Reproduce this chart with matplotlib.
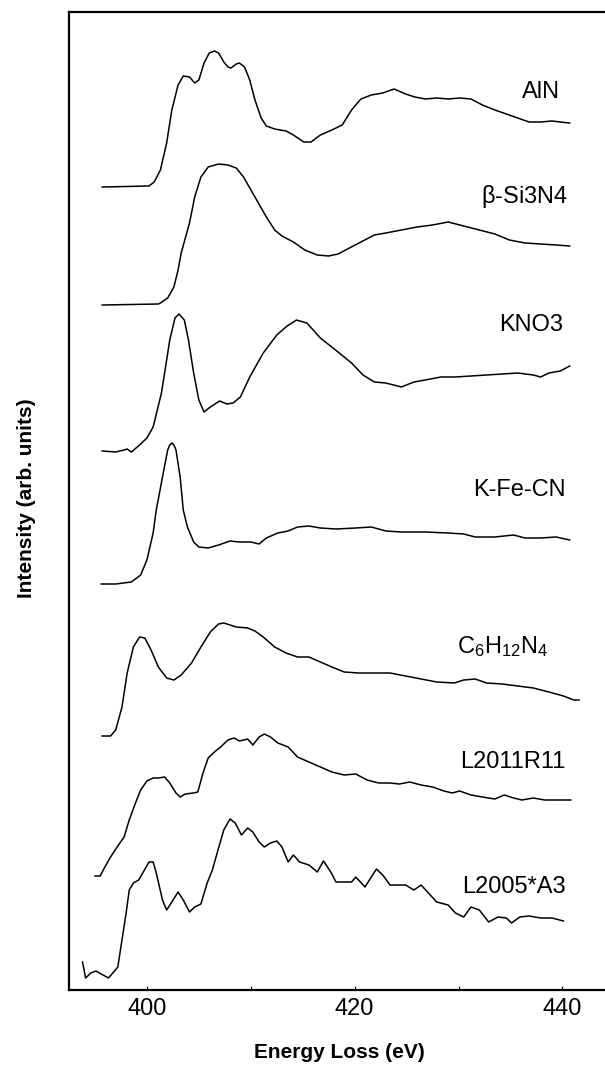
import matplotlib
matplotlib.use("Agg")
import matplotlib.pyplot as plt
from matplotlib.ticker import MultipleLocator

plt.rcParams['font.family'] = ['Liberation Sans', 'DejaVu Sans']
plt.rcParams['mathtext.fontset'] = 'custom'
plt.rcParams['mathtext.rm'] = 'Liberation Sans'
plt.rcParams['mathtext.it'] = 'Liberation Sans'

# energy loss (eV) and stacked intensity (arb. units, offsets included)
aln_e = [395.7, 400.2, 400.7, 401.3, 401.9, 402.4, 403.0, 403.5, 404.1, 404.6,
         405.0, 405.5, 406.0, 406.5, 406.9, 407.4, 407.8, 408.1, 408.6, 408.9,
         409.4, 409.9, 410.4, 411.0, 411.5, 412.3, 413.4, 414.1, 415.1, 415.8,
         416.7, 417.8, 418.8, 419.7, 420.6, 421.6, 422.7, 423.8, 424.9, 425.8,
         426.8, 427.9, 429.0, 430.1, 431.2, 432.3, 433.5, 434.6, 435.7, 436.8,
         437.9, 439.0, 439.8, 440.7]
aln_i = [803, 804, 808, 820, 847, 880, 905, 914, 913, 907,
         910, 927, 937, 939, 937, 928, 923, 922, 926, 927,
         923, 910, 890, 872, 864, 861, 859, 855, 848, 848,
         855, 860, 865, 880, 891, 895, 897, 901, 896, 893,
         891, 892, 891, 892, 891, 885, 880, 876, 872, 868,
         868, 869, 868, 867]

si3n4_e = [395.7, 401.1, 401.3, 402.0, 402.6, 403.0, 403.3, 404.1, 404.6, 405.2,
           405.9, 406.9, 407.8, 408.6, 409.3, 410.4, 411.5, 412.3, 413.0, 414.1,
           415.2, 416.4, 417.5, 418.4, 419.5, 420.6, 421.9, 423.0, 424.5, 426.0,
           427.5, 429.0, 430.5, 432.0, 433.5, 434.9, 436.4, 437.9, 439.4, 440.7]
si3n4_i = [685, 686, 687, 692, 703, 720, 737, 767, 793, 813,
           823, 826, 825, 822, 813, 793, 773, 760, 754, 748,
           740, 735, 734, 736, 742, 748, 755, 757, 760, 763,
           765, 768, 764, 760, 756, 750, 747, 746, 745, 744]

kno3_e = [395.7, 397.0, 397.8, 398.1, 398.5, 399.3, 400.0, 400.6, 401.4, 401.9,
          402.2, 402.7, 403.1, 403.6, 404.0, 404.5, 405.0, 405.5, 406.1, 407.0,
          407.7, 408.3, 409.0, 409.9, 411.2, 412.5, 413.5, 414.4, 415.4, 416.7,
          418.4, 419.7, 420.8, 421.9, 423.0, 424.5, 425.7, 426.8, 428.3, 429.7,
          431.2, 432.7, 434.2, 435.7, 437.2, 437.9, 438.7, 439.8, 440.7]
kno3_i = [539, 538, 540, 541, 538, 545, 552, 563, 597, 630,
          650, 672, 676, 670, 650, 617, 590, 578, 583, 589,
          586, 587, 593, 613, 637, 655, 664, 670, 667, 652,
          638, 627, 615, 608, 607, 603, 608, 610, 613, 613,
          614, 615, 616, 617, 615, 613, 617, 619, 624]

kfecn_e = [395.6, 397.0, 398.5, 399.4, 400.0, 400.6, 400.9, 401.5, 402.0, 402.2,
           402.4, 402.6, 402.8, 403.2, 403.5, 403.9, 404.5, 405.0, 405.9, 406.9,
           408.0, 408.9, 410.0, 410.8, 411.5, 412.6, 413.6, 414.5, 415.6, 416.7,
           418.2, 420.1, 421.6, 423.0, 424.5, 426.8, 429.0, 430.5, 431.6, 433.5,
           435.3, 436.4, 437.9, 439.4, 440.7]
kfecn_i = [406, 406, 408, 415, 430, 457, 480, 513, 540, 545,
           547, 545, 540, 513, 480, 463, 448, 443, 442, 445,
           449, 448, 448, 446, 452, 457, 459, 463, 464, 462,
           461, 462, 463, 459, 458, 458, 457, 456, 453, 453,
           455, 452, 452, 453, 450]

c6h12n4_e = [395.7, 396.5, 397.0, 397.6, 398.1, 398.7, 399.3, 399.8, 400.4, 401.1,
             401.9, 402.6, 403.3, 404.3, 405.2, 406.1, 406.9, 407.4, 408.6, 409.7,
             410.4, 411.2, 412.3, 413.4, 414.5, 415.6, 416.7, 417.8, 419.0, 420.4,
             421.9, 423.4, 424.9, 426.4, 427.9, 429.6, 430.5, 431.6, 432.7, 434.2,
             435.7, 437.2, 438.7, 440.1, 441.1, 441.6]
c6h12n4_i = [254, 254, 260, 283, 317, 343, 353, 352, 340, 323,
             312, 310, 315, 327, 343, 358, 366, 367, 363, 362,
             359, 353, 343, 337, 333, 333, 328, 323, 318, 317,
             317, 317, 314, 311, 308, 307, 310, 311, 307, 306,
             304, 302, 298, 294, 290, 290]

l2011_e = [395.0, 395.5, 395.9, 396.5, 397.0, 397.8, 398.3, 398.9, 399.4, 400.0,
           400.6, 401.1, 401.7, 402.2, 402.8, 403.2, 403.7, 404.5, 404.9, 405.4,
           405.9, 406.5, 407.1, 407.8, 408.4, 408.9, 409.7, 410.2, 410.8, 411.3,
           411.9, 412.6, 413.6, 414.5, 415.6, 416.7, 417.8, 419.0, 420.1, 421.2,
           422.3, 423.4, 424.3, 425.3, 426.4, 427.5, 428.6, 429.4, 430.1, 431.2,
           432.3, 433.5, 434.4, 435.3, 436.1, 437.2, 438.3, 439.4, 440.8]
l2011_i = [114, 114, 122, 133, 141, 153, 170, 187, 200, 209,
           212, 212, 213, 207, 197, 193, 196, 197, 198, 217,
           232, 238, 243, 250, 252, 249, 251, 245, 253, 256,
           253, 247, 243, 233, 228, 223, 218, 215, 216, 210,
           207, 207, 206, 208, 205, 203, 199, 197, 199, 195,
           193, 191, 195, 192, 190, 192, 190, 190, 190]

l2005_e = [393.8, 394.1, 394.6, 395.1, 395.6, 396.3, 396.8, 397.2, 397.6, 398.0,
           398.3, 398.7, 399.2, 399.6, 400.2, 400.6, 400.9, 401.5, 401.9, 402.4,
           403.0, 403.5, 404.1, 404.6, 405.2, 405.8, 406.3, 406.9, 407.4, 408.0,
           408.5, 409.1, 409.7, 410.2, 410.8, 411.3, 411.9, 412.5, 413.0, 413.6,
           414.1, 414.7, 415.6, 416.4, 417.0, 417.7, 418.2, 419.0, 419.7, 420.1,
           421.0, 421.6, 422.1, 422.7, 423.4, 424.2, 424.9, 425.7, 426.4, 427.1,
           427.9, 429.0, 429.7, 430.5, 431.2, 432.0, 432.9, 433.8, 434.6, 435.1,
           435.9, 436.8, 437.9, 439.0, 440.1]
l2005_i = [28, 12, 17, 19, 16, 12, 18, 23, 50, 77,
           100, 107, 110, 117, 128, 128, 117, 90, 80, 88,
           98, 90, 78, 83, 86, 107, 120, 142, 160, 171,
           167, 155, 162, 158, 148, 143, 147, 149, 143, 128,
           135, 128, 125, 118, 129, 118, 108, 108, 108, 113,
           103, 113, 121, 115, 105, 105, 105, 100, 105, 97,
           88, 85, 77, 73, 83, 80, 68, 73, 72, 67,
           73, 74, 72, 72, 69]

names = ['AlN', r'$\beta$-Si3N4', 'KNO3', 'K-Fe-CN',
         r'C$_6$H$_{12}$N$_4$', 'L2011R11', 'L2005*A3']
label_e = [439.8, 440.5, 440.1, 440.3, 438.7, 440.3, 440.3]
label_i = [898, 793, 665, 500, 343, 228, 103]

spectra = [(aln_e, aln_i), (si3n4_e, si3n4_i), (kno3_e, kno3_i),
           (kfecn_e, kfecn_i), (c6h12n4_e, c6h12n4_i),
           (l2011_e, l2011_i), (l2005_e, l2005_i)]

fig = plt.figure(figsize=(6.05, 10.68), dpi=100)
ax = fig.add_axes([69 / 605, 78 / 1068, 1 - 69 / 605, 978 / 1068])

for e, i in spectra:
    ax.plot(e, i, color='black', lw=1.1, solid_joinstyle='round')

for name, x, y in zip(names, label_e, label_i):
    ax.text(x, y, name, ha='right', va='center', fontsize=17)

ax.set_xlim(392.5, 444.1)
ax.set_ylim(0, 978)
ax.set_yticks([])
ax.xaxis.set_major_locator(MultipleLocator(20))
ax.xaxis.set_minor_locator(MultipleLocator(10))
ax.tick_params(axis='x', which='both', direction='in', length=3, width=0.8,
               labelsize=17, pad=6)
ax.spines['right'].set_visible(False)
for s in ['left', 'top', 'bottom']:
    ax.spines[s].set_linewidth(1.6)

fig.text(339 / 605, 1 - 1052 / 1068, 'Energy Loss (eV)', ha='center',
         va='center', fontsize=15, fontweight='bold')
fig.text(27 / 605, 1 - 498 / 1068, 'Intensity (arb. units)', ha='center',
         va='center', rotation=90, fontsize=15, fontweight='bold')

fig.savefig('out.png', dpi=100)
